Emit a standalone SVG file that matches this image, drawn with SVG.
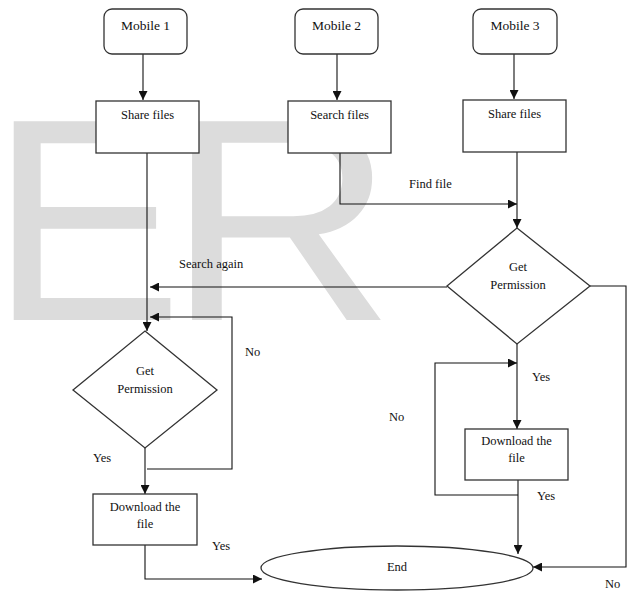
<svg xmlns="http://www.w3.org/2000/svg" width="628" height="595" viewBox="0 0 628 595">
<defs>
<style>
.wm{font-family:"Liberation Sans",Arial,sans-serif;font-size:289px;fill:#dcdcdc}
.n{fill:#fff;stroke:#333;stroke-width:1.3}
text.t{font-family:'Liberation Serif','Times New Roman',Times,serif;font-size:12.5px;fill:#111;text-anchor:middle}
text.m{font-size:13.5px}
text.l{font-family:'Liberation Serif','Times New Roman',Times,serif;font-size:12.5px;fill:#111}
.c{fill:none;stroke:#111;stroke-width:1.1}
</style>
<marker id="ah" viewBox="0 0 10 10" refX="10" refY="5" markerWidth="9" markerHeight="9" markerUnits="userSpaceOnUse" orient="auto">
<path d="M0,0 L10,5 L0,10 z" fill="#111"/>
</marker>
</defs>
<rect width="628" height="595" fill="#fff"/>
<text class="wm" x="-10" y="320">E</text>
<text class="wm" transform="translate(166,320) scale(1.1,1)" x="0" y="0">R</text>

<g id="connectors">
<path class="c" d="M143,54 V100" marker-end="url(#ah)"/>
<path class="c" d="M337,54 V100" marker-end="url(#ah)"/>
<path class="c" d="M514,54 V99" marker-end="url(#ah)"/>
<path class="c" d="M340,153 V204 H517" marker-end="url(#ah)"/>
<path class="c" d="M517,152 V228" marker-end="url(#ah)"/>
<path class="c" d="M447,287 H150" marker-end="url(#ah)"/>
<path class="c" d="M147,153 V331" marker-end="url(#ah)"/>
<path class="c" d="M147,469 H232 V317 H150" marker-end="url(#ah)"/>
<path class="c" d="M145,448 V494" marker-end="url(#ah)"/>
<path class="c" d="M145,545 V579 H262" marker-end="url(#ah)"/>
<path class="c" d="M517,344 V429" marker-end="url(#ah)"/>
<path class="c" d="M518,495 H435 V363 H517" marker-end="url(#ah)"/>
<path class="c" d="M518,480 V554" marker-end="url(#ah)"/>
<path class="c" d="M590,286 H626 V567 H533" marker-end="url(#ah)"/>
<text class="l" x="409" y="188">Find file</text>
<text class="l" x="179" y="268">Search again</text>
<text class="l" x="245" y="356">No</text>
<text class="l" x="93" y="462">Yes</text>
<text class="l" x="212" y="550">Yes</text>
<text class="l" x="532" y="381">Yes</text>
<text class="l" x="389" y="421">No</text>
<text class="l" x="537" y="500">Yes</text>
<text class="l" x="605" y="588">No</text>
</g>

<g id="mobile1"><rect class="n" x="104" y="9" width="83" height="45" rx="8"/><text class="t m" x="145.5" y="30">Mobile 1</text></g>
<g id="mobile2"><rect class="n" x="295" y="9" width="83" height="45" rx="8"/><text class="t m" x="336.5" y="30">Mobile 2</text></g>
<g id="mobile3"><rect class="n" x="473" y="9" width="84" height="45" rx="8"/><text class="t m" x="515" y="30">Mobile 3</text></g>

<g id="share1"><rect class="n" x="96" y="101" width="103" height="52"/><text class="t" x="147.5" y="119">Share files</text></g>
<g id="search2"><rect class="n" x="288" y="101" width="103" height="52"/><text class="t" x="339.5" y="119">Search files</text></g>
<g id="share3"><rect class="n" x="463" y="100" width="103" height="52"/><text class="t" x="514.5" y="118">Share files</text></g>

<g id="perm3"><path class="n" d="M517,228 L590,286 L517,344 L447,286 Z"/><text class="t" x="518" y="271">Get</text><text class="t" x="518" y="289">Permission</text></g>
<g id="perm1"><path class="n" d="M145,331 L217,390 L145,448 L73,390 Z"/><text class="t" x="145" y="375">Get</text><text class="t" x="145" y="393">Permission</text></g>

<g id="download1"><rect class="n" x="93" y="494" width="104" height="51"/><text class="t" x="145" y="511">Download the</text><text class="t" x="145" y="528">file</text></g>
<g id="download3"><rect class="n" x="465" y="429" width="103" height="51"/><text class="t" x="516.5" y="445">Download the</text><text class="t" x="516.5" y="462">file</text></g>

<g id="end"><ellipse class="n" cx="397" cy="568" rx="136" ry="22"/><text class="t" x="397" y="571">End</text></g>
</svg>
